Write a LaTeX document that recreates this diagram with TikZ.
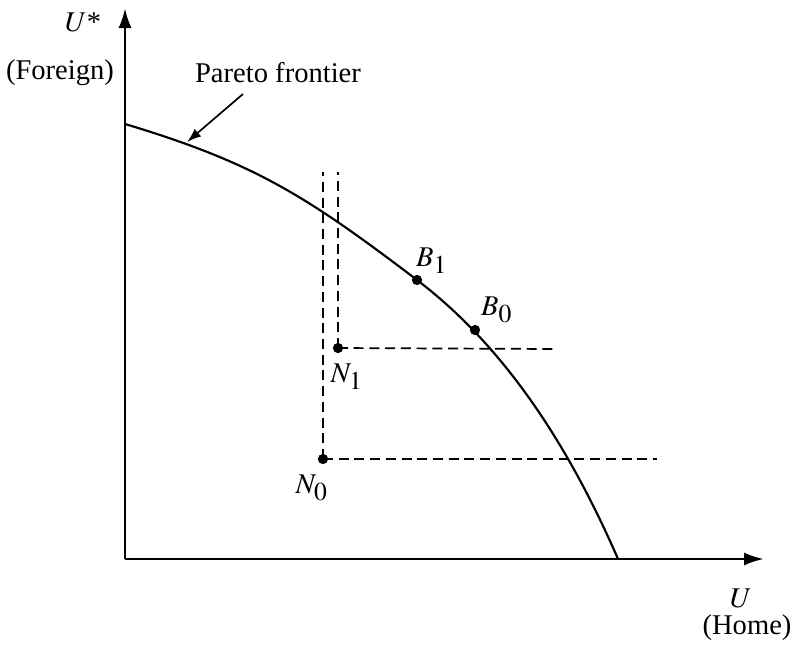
\documentclass[tikz,border=0pt]{standalone}
\usepackage{mathptmx}
\usepackage{fontspec}
\setmainfont{Liberation Serif}
\DeclareMathSizes{10}{10}{9}{7}
\usetikzlibrary{positioning,arrows.meta}

\begin{document}
\begin{tikzpicture}[x=0.35pt,y=-0.35pt,font=\fontsize{10}{12}\selectfont,
    axis/.style={line width=1pt,-{Latex[length=7pt,width=4.6pt]}},
    dot/.style={circle,fill,inner sep=0pt,minimum size=3.6pt},
    guide/.style={line width=0.6pt,dash pattern=on 3.5pt off 2pt},
    lbl/.style={inner sep=1pt}]
    \useasboundingbox (0,0) rectangle (796,653);
    % axes
    \coordinate (O) at (125,559);
    \coordinate (ytip) at (125,8);
    \coordinate (xtip) at (764,559);
    \draw[axis] (O) -- (ytip);
    \draw[axis] (O) -- (xtip);
    \node[lbl] (ustar) at (83,22) {$U$*};
    \node[lbl] (foreign) at (60,73) {(Foreign)};
    \node[lbl] (u) at (741,598) {$U$};
    \node[lbl] (home) at (747,628) {(Home)};
    % points
    \node[dot] (B1) at (417,280) {};
    \node[dot] (B0) at (475,330) {};
    \node[dot] (N1) at (338,348) {};
    \node[dot] (N0) at (323,459) {};
    % frontier
    \coordinate (fstart) at (125,124);
    \coordinate (fend) at (618,559);
    \draw[line width=0.75pt] (fstart) .. controls (255,163) and (307,196.4) .. (B1.center)
    .. controls (497,340.8) and (563,432.5) .. (fend);
    \node[lbl] (pareto) at (278,73) {Pareto frontier};
    \coordinate (ptail) at (243,94);
    \coordinate (ptip) at (187,142);
    \draw[line width=0.6pt,-{Latex[length=5pt,width=3.5pt]}] (ptail) -- (ptip);
    % dashed guides
    \coordinate (top0) at (323,172);
    \coordinate (top1) at (338,172);
    \coordinate (end0) at (657,459);
    \coordinate (end1) at (555,349);
    \foreach \X in {0,1}
    {\draw[guide] (N\X.center) -- (top\X);
    \draw[guide] (N\X.center) -- (end\X);}
    \node[lbl] (B1l) at (432,261) {$B_1$};
    \node[lbl] (B0l) at (497,310) {$B_0$};
    \node[lbl] (N1l) at (347,377) {$N_1$};
    \node[lbl] (N0l) at (312,488) {$N_0$};
\end{tikzpicture}
\end{document}
